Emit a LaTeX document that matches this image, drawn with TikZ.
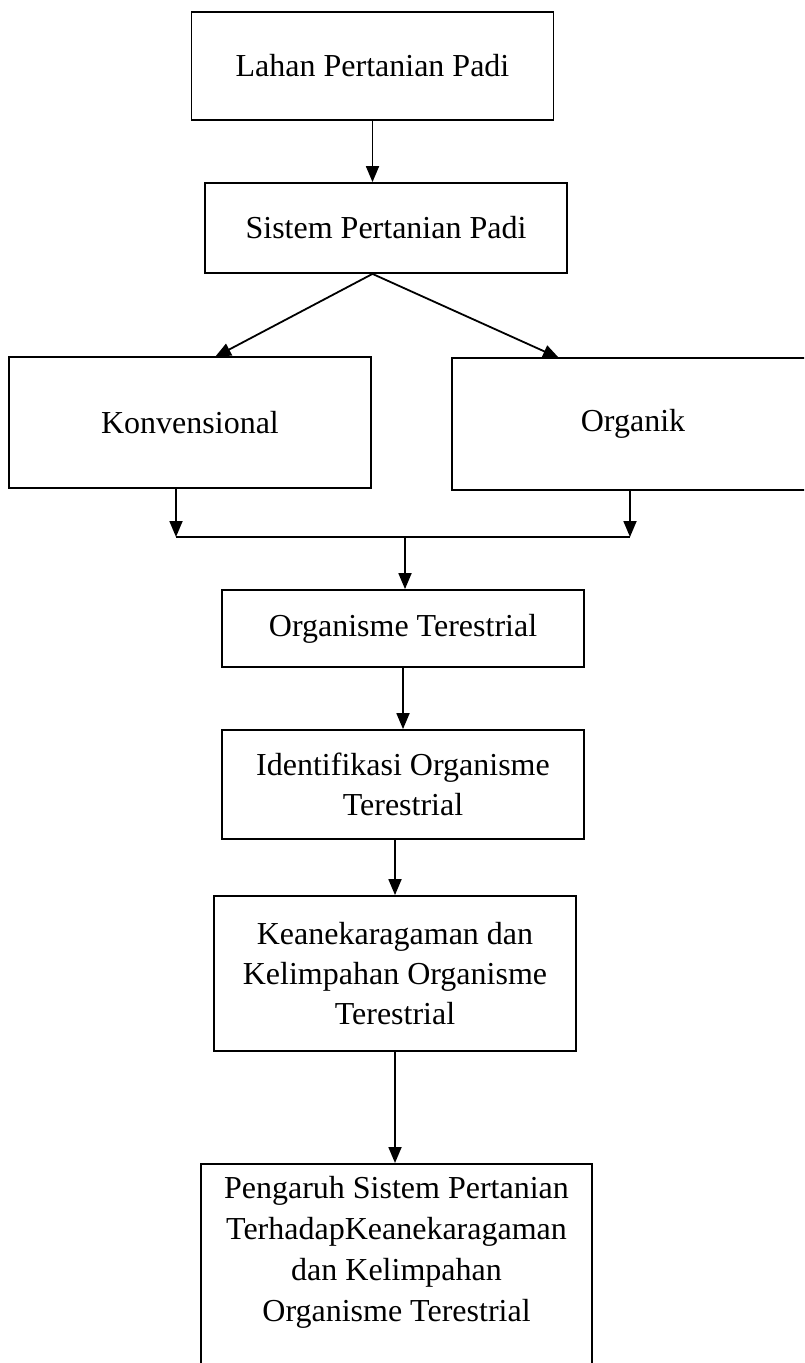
\documentclass[tikz,border=0pt]{standalone}
\usepackage{fontspec}
\setmainfont{Liberation Serif}
\usepackage{tikz}
\usetikzlibrary{arrows.meta}

\begin{document}
\begin{tikzpicture}[x=1pt,y=-1pt,
	kotak/.style={draw,line width=1.8pt,minimum width=362pt,align=center,inner sep=4pt,font=\fontsize{32}{40}\selectfont},
	panah/.style={line width=1.8pt,-{Triangle[width=13pt,length=16pt]}},
	garis/.style={line width=1.8pt}]
	\useasboundingbox (0,0) rectangle (804,1363);
	\clip (0,0) rectangle (804,1363);

	%lahan dan sistem
	\node[kotak,minimum height=108pt] (lahan) at (372.5,66) {Lahan Pertanian Padi};
	\node[kotak,minimum height=90pt] (sistem) at (386,228) {Sistem Pertanian Padi};
	\draw[panah] (lahan.south) -- (lahan.south |- sistem.north);

	%dua sistem
	\node[kotak,minimum height=131pt] (konv) at (190,422.5) {Konvensional};
	\node[kotak,minimum height=132pt] (organik) at (633,424) {Organik};
	\coordinate (cabang) at (sistem.south -| lahan.south);
	\coordinate (ujungkiri) at (215,357);
	\coordinate (ujungkanan) at (559,358);
	\draw[panah] (cabang) -- (ujungkiri);
	\draw[panah] (cabang) -- (ujungkanan);

	%gabungan
	\coordinate (kiri) at (176,537);
	\coordinate (kanan) at (630,537);
	\coordinate (tengah) at (405,537);
	\draw[panah] (kiri |- konv.south) -- (kiri);
	\draw[panah] (kanan |- organik.south) -- (kanan);
	\draw[garis] (kiri) -- (kanan);

	%organisme terestrial
	\node[kotak,minimum height=77pt] (organisme) at (403,628.5) {Organisme Terestrial};
	\draw[panah] (tengah) -- (tengah |- organisme.north);
	\node[kotak,minimum height=109pt] (identifikasi) at (403,784.5) {Identifikasi Organisme\\Terestrial};
	\draw[panah] (organisme.south) -- (identifikasi.north);
	\node[kotak,minimum height=155pt] (keragaman) at (395,973.5) {Keanekaragaman dan\\Kelimpahan Organisme\\Terestrial};
	\draw[panah] (keragaman.north |- identifikasi.south) -- (keragaman.north);

	%pengaruh
	\node[kotak,minimum width=391pt,anchor=north,inner sep=12pt,font=\fontsize{32}{41}\selectfont] (pengaruh) at (396.5,1163) {Pengaruh Sistem Pertanian\\TerhadapKeanekaragaman\\dan Kelimpahan\\Organisme Terestrial\\\rule{0pt}{120pt}};
	\draw[panah] (keragaman.south) -- (keragaman.south |- pengaruh.north);
\end{tikzpicture}
\end{document}
